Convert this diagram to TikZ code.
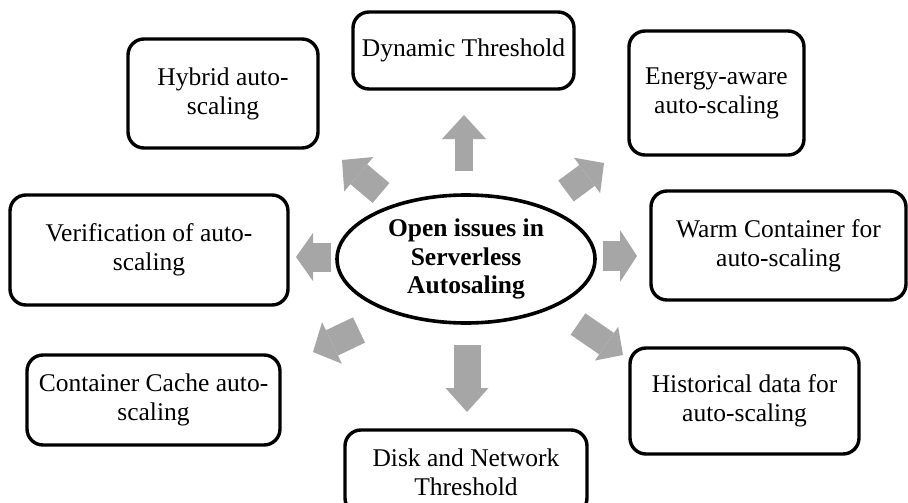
\documentclass[tikz,border=0pt]{standalone}
\usepackage{fontspec}
\setmainfont{Liberation Serif}
\usetikzlibrary{shapes.geometric,arrows.meta}
\definecolor{arrowgray}{RGB}{166,166,166}
\begin{document}
\begin{tikzpicture}[x=1pt,y=-1pt,
  topic/.style={draw=black, line width=3.4pt, rounded corners=16pt, align=center,
    inner sep=0pt, font=\fontsize{25.5}{29}\selectfont},
  hub/.style={draw=black, ellipse, line width=3.6pt, align=center, inner sep=0pt,
    minimum width=258pt, minimum height=128pt, font=\fontsize{25.5}{28.5}\selectfont\bfseries},
  flow/.style n args={3}{draw=arrowgray, line width=#1,
    -{Triangle[width=#2, length=#3, line width=0pt]}},
]
\useasboundingbox (0,0) rectangle (908,503);
\fill[white] (0,0) rectangle (908,503);
\clip (0,0) rectangle (908,503);

% central topic
\node[hub] (hub) at (466,259) {Open issues in\\Serverless\\Autosaling};

% surrounding issues
\node[topic, minimum width=190pt, minimum height=109pt] (hybrid) at (223,93.5) {Hybrid auto-\\scaling};
\node[topic, minimum width=221pt, minimum height=77pt] (dynamic) at (463.5,50.5) {Dynamic Threshold};
\node[topic, minimum width=175pt, minimum height=124pt] (energy) at (716.5,93) {Energy-aware\\auto-scaling};
\node[topic, minimum width=278pt, minimum height=110pt] (verif) at (149,250) {Verification of auto-\\scaling};
\node[topic, minimum width=255pt, minimum height=109pt] (warm) at (778.5,245.5) {Warm Container for\\auto-scaling};
\node[topic, minimum width=253pt, minimum height=90pt] (cache) at (153.5,400) {Container Cache auto-\\scaling};
\node[topic, minimum width=242pt, minimum height=84pt] (disk) at (466,472) {Disk and Network\\Threshold};
\node[topic, minimum width=229pt, minimum height=106pt] (hist) at (744.5,401) {Historical data for\\auto-scaling};

% block arrows pointing from the hub towards each issue
\coordinate (upT) at (464,171);   \coordinate (upH) at (464,115);
\coordinate (dnT) at (467,345);   \coordinate (dnH) at (467,412);
\coordinate (lfT) at (331,257);   \coordinate (lfH) at (296,257);
\coordinate (rtT) at (603,256);   \coordinate (rtH) at (637,256);
\coordinate (ulT) at (381,193);   \coordinate (ulH) at (342,160);
\coordinate (urT) at (566,191);   \coordinate (urH) at (604,163);
\coordinate (dlT) at (359,330);   \coordinate (dlH) at (313,352);
\coordinate (drT) at (578,324);   \coordinate (drH) at (623,355);

\draw[flow={18pt}{44pt}{24pt}] (upT) -- (upH);
\draw[flow={27pt}{43pt}{24pt}] (dnT) -- (dnH);
\draw[flow={29pt}{48pt}{17pt}] (lfT) -- (lfH);
\draw[flow={30pt}{52pt}{17pt}] (rtT) -- (rtH);
\draw[flow={26pt}{45pt}{22pt}] (ulT) -- (ulH);
\draw[flow={26pt}{44pt}{21pt}] (urT) -- (urH);
\draw[flow={28pt}{46pt}{21pt}] (dlT) -- (dlH);
\draw[flow={26pt}{41pt}{20pt}] (drT) -- (drH);
\end{tikzpicture}
\end{document}
